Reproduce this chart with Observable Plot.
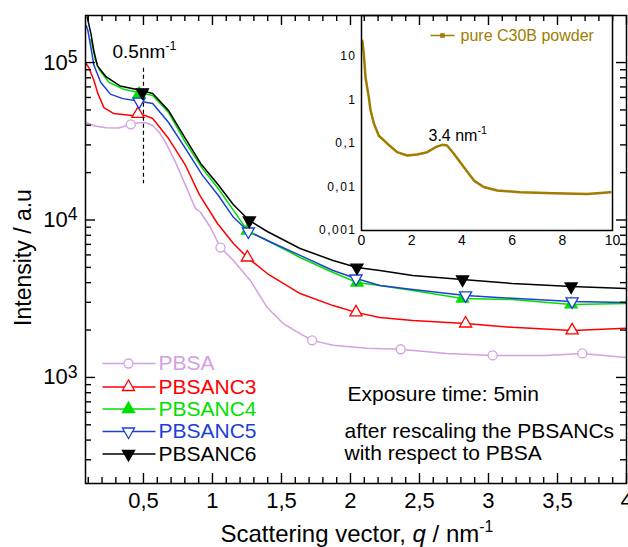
<!DOCTYPE html>
<html><head><meta charset="utf-8">
<script src="https://cdn.jsdelivr.net/npm/d3@7"></script>
<script src="https://cdn.jsdelivr.net/npm/@observablehq/plot@0.6"></script>
<style>
body{margin:0;background:#fff;}
#wrap{position:relative;width:628px;height:547px;overflow:hidden;}
#wrap svg{position:absolute;overflow:visible;}
.inset [aria-label="y-axis tick label"] text{letter-spacing:1.5px;}
</style></head><body><div id="wrap"></div>
<script>
// ---------------- data ----------------
const seriesNames = ["PBSA", "PBSANC3", "PBSANC4", "PBSANC5", "PBSANC6"];
const seriesColors = ["#d3a0e3", "#ff0000", "#00e000", "#1c3fd6", "#000000"];

// [q (nm^-1), intensity (a.u.)]
const pbsa = [[0.083,41600],[0.15,39500],[0.227,38600],[0.321,38400],[0.408,40500],[0.47,41500],[0.516,41600],[0.567,39800],[0.615,36000],[0.661,31000],[0.733,23200],[0.805,16600],[0.877,11800],[0.913,11200],[0.986,8960],[1.058,6680],[1.152,5530],[1.274,4130],[1.397,2780],[1.513,2200],[1.635,1900],[1.722,1720],[1.874,1600],[2.119,1530],[2.357,1510],[2.696,1420],[3.029,1380],[3.419,1380],[3.679,1420],[3.996,1340]];
const pbsanc3 = [[0.083,99000],[0.104,92900],[0.141,76900],[0.17,63500],[0.213,51800],[0.285,47400],[0.43,46000],[0.5,46500],[0.567,44100],[0.682,32900],[0.805,22200],[0.905,14500],[1.036,9500],[1.152,7100],[1.253,5780],[1.397,4570],[1.635,3410],[1.874,2860],[2.04,2590],[2.213,2400],[2.451,2300],[2.834,2200],[3.173,2080],[3.606,1990],[3.996,2050]];
const pbsanc4 = [[0.12,140000],[0.15,105000],[0.18,90000],[0.249,75000],[0.35,68000],[0.466,64600],[0.567,61700],[0.682,48200],[0.805,31000],[0.928,21200],[1.043,15800],[1.152,11500],[1.253,8570],[1.397,7410],[1.635,5780],[1.874,4640],[2.047,4010],[2.213,3840],[2.451,3570],[2.812,3170],[3.173,3130],[3.599,2910],[3.996,2950]];
const pbsanc5 = [[0.085,172000],[0.097,160000],[0.119,125000],[0.141,96000],[0.19,75000],[0.26,63000],[0.35,59000],[0.44,57500],[0.567,55000],[0.682,41600],[0.805,28400],[0.928,19200],[1.043,14300],[1.152,10400],[1.26,8450],[1.397,7410],[1.635,5960],[1.874,4780],[2.04,4250],[2.213,3840],[2.451,3620],[2.834,3320],[3.173,3180],[3.606,3040],[3.996,2990]];
const pbsanc6 = [[0.092,195000],[0.119,153000],[0.141,118000],[0.167,95000],[0.23,81000],[0.33,71000],[0.47,67000],[0.567,63600],[0.682,49500],[0.8,33400],[0.92,22500],[1.04,16800],[1.152,12500],[1.267,9930],[1.397,8450],[1.635,6590],[1.874,5530],[2.047,4990],[2.213,4770],[2.451,4440],[2.812,4190],[3.173,3950],[3.6,3780],[3.996,3670]];

// marker positions on each curve
const pbsaMarks = [[0.408,40500],[1.058,6680],[1.722,1720],[2.364,1510],[3.03,1380],[3.68,1420]];
const nc3Marks = [[0.46,47200],[1.253,5780],[2.04,2590],[2.834,2200],[3.606,1990]];
const nc4Marks = [[0.468,63000],[1.253,8570],[2.047,4010],[2.812,3170],[3.599,2910]];
const nc5Marks = [[0.468,56500],[1.26,8450],[2.04,4250],[2.834,3320],[3.606,3040]];
const nc6Marks = [[0.492,64700],[1.267,9930],[2.047,4990],[2.812,4190],[3.599,3780]];

// inset: pure C30B powder
const c30b = [[0.03,23],[0.09,11.7],[0.16,3.3],[0.29,1.16],[0.36,0.58],[0.49,0.29],[0.69,0.15],[1.02,0.1],[1.42,0.063],[1.82,0.053],[2.22,0.056],[2.62,0.063],[2.95,0.082],[3.21,0.093],[3.41,0.09],[3.68,0.058],[4.08,0.0285],[4.48,0.014],[4.87,0.01],[5.41,0.0083],[6.33,0.0076],[7.66,0.0072],[8.99,0.0069],[9.92,0.0076]];

// tick labels
const xTicks = [0.5, 1, 1.5, 2, 2.5, 3, 3.5, 4];
const yTicks = [1e3, 1e4, 1e5];
const insetXTicks = [0, 2, 4, 6, 8, 10];
const insetYTicks = [0.001, 0.01, 0.1, 1, 10];

const xMinor = d3.range(1, 40).map(i => i / 10).filter(v => v > 0.08 && Math.abs(v * 2 - Math.round(v * 2)) > 1e-6);
const yMinor = [100, 1000, 10000].flatMap(d => d3.range(2, 10).map(k => k * d)).filter(v => v > 212 && v < 199000);

// ---------------- helpers ----------------
const FONT = "'Liberation Sans', Arial, Helvetica, sans-serif";
const GOLD = "#a07c00";
const sqrt3 = Math.sqrt(3);
const triDown = {draw(ctx, size) { const y = -Math.sqrt(size / (sqrt3 * 3)); ctx.moveTo(0, -y * 2); ctx.lineTo(-sqrt3 * y, y); ctx.lineTo(sqrt3 * y, y); ctx.closePath(); }};
const lineShape = {draw(ctx, l) { ctx.moveTo(0, 0); ctx.lineTo(0, -l); }};
const fmtComma = d => String(d).replace(".", ",");

const W = 628, H = 547, ML = 85, MR = 2, MT = 15, MB = 64;
const FW = W - ML - MR, FH = H - MT - MB;
const px = (x, y) => ({frameAnchor: "top-left", dx: x - ML, dy: y - MT});
const tickStyle = {stroke: "black", strokeWidth: 1.4};
const mainScales = {x: {domain: [0.08, 4]}, y: {type: "log", domain: [212, 199000]}};

const specs = [
  {name: seriesNames[0], data: pbsa, marks: pbsaMarks, color: seriesColors[0], symbol: "circle", filled: false, ly: 363},
  {name: seriesNames[1], data: pbsanc3, marks: nc3Marks, color: seriesColors[1], symbol: "triangle", filled: false, ly: 386.5},
  {name: seriesNames[2], data: pbsanc4, marks: nc4Marks, color: seriesColors[2], symbol: "triangle", filled: true, ly: 408.5},
  {name: seriesNames[3], data: pbsanc5, marks: nc5Marks, color: seriesColors[3], symbol: triDown, filled: false, ly: 431},
  {name: seriesNames[4], data: pbsanc6, marks: nc6Marks, color: seriesColors[4], symbol: triDown, filled: true, ly: 453.5}
];

const marks = [];
for (const s of specs) marks.push(Plot.line(s.data, {x: d => d[0], y: d => d[1], stroke: s.color, strokeWidth: 1.5, clip: true}));
for (const s of specs) marks.push(Plot.dot(s.marks, {x: d => d[0], y: d => d[1], symbol: s.symbol, r: 4.5, stroke: s.color, fill: s.filled ? s.color : "white", strokeWidth: 1.3}));
marks.push(Plot.ruleX([0.5], {y1: 92000, y2: 17000, stroke: "black", strokeWidth: 1.2, strokeDasharray: "4,3"}));
marks.push(Plot.axisX(xTicks, {tickSize: 0, tickPadding: 9, tickFormat: fmtComma, fontSize: 22, label: null}));
marks.push(Plot.axisY(yTicks, {tickSize: 0, tickPadding: 8, tickFormat: d => `10^{${Math.round(Math.log10(d))}}`, fontSize: 22, label: null}));
marks.push(Plot.frame({stroke: "black", strokeWidth: 1.5}));
// legend
for (const s of specs) {
  marks.push(Plot.vector([0], {...px(102, s.ly), rotate: 90, length: 53, anchor: "start", shape: lineShape, stroke: s.color, strokeWidth: 1.5, strokeLinecap: "butt"}));
  marks.push(Plot.dot([0], {...px(128, s.ly), symbol: s.symbol, r: 4.5, stroke: s.color, fill: s.filled ? s.color : "white", strokeWidth: 1.3}));
  marks.push(Plot.text([s.name], {...px(158, s.ly), text: d => d, textAnchor: "start", lineAnchor: "middle", fill: s.color, fontSize: 21}));
}
// texts
marks.push(Plot.text(["0.5nm^{-1}"], {...px(112, 57), text: d => d, textAnchor: "start", lineAnchor: "bottom", fontSize: 19}));
marks.push(Plot.text(["Exposure time: 5min"], {...px(347, 400), text: d => d, textAnchor: "start", lineAnchor: "bottom", fontSize: 21}));
marks.push(Plot.text(["after rescaling the PBSANCs"], {...px(344, 437), text: d => d, textAnchor: "start", lineAnchor: "bottom", fontSize: 21}));
marks.push(Plot.text(["with respect to PBSA"], {...px(344, 459), text: d => d, textAnchor: "start", lineAnchor: "bottom", fontSize: 21}));
marks.push(Plot.text(["Intensity / a.u"], {...px(30, 257), text: d => d, rotate: -90, textAnchor: "middle", lineAnchor: "bottom", fontSize: 23}));
marks.push(Plot.text(["Scattering vector, *q* / nm^{-1}"], {...px(220, 541), text: d => d, textAnchor: "start", lineAnchor: "bottom", fontSize: 24}));

const main = Plot.plot({
  width: W, height: H,
  marginLeft: ML, marginRight: MR, marginTop: MT, marginBottom: MB,
  style: {fontFamily: FONT, fontSize: "21px", color: "black", background: "transparent", overflow: "visible"},
  ...mainScales,
  marks
});

// ---------------- inward ticks on all four sides (separate overlay with the same scales) ----------------
const tickLayer = Plot.plot({
  width: W, height: H,
  marginLeft: ML, marginRight: MR, marginTop: MT, marginBottom: MB,
  style: {background: "transparent", overflow: "visible"},
  ...mainScales,
  marks: [
    Plot.ruleX(xTicks, {x: d => d, insetTop: FH - 10, ...tickStyle}),
    Plot.ruleX(xMinor, {x: d => d, insetTop: FH - 6, ...tickStyle}),
    Plot.ruleX(xTicks, {x: d => d, insetBottom: FH - 10, ...tickStyle}),
    Plot.ruleX(xMinor, {x: d => d, insetBottom: FH - 6, ...tickStyle}),
    Plot.ruleY(yTicks, {y: d => d, insetRight: FW - 10, ...tickStyle}),
    Plot.ruleY(yMinor, {y: d => d, insetRight: FW - 6, ...tickStyle}),
    Plot.ruleY(yTicks, {y: d => d, insetLeft: FW - 10, ...tickStyle}),
    Plot.ruleY(yMinor, {y: d => d, insetLeft: FW - 6, ...tickStyle}),
    Plot.axisX({ticks: [], label: null, tickSize: 0}),
    Plot.axisY({ticks: [], label: null, tickSize: 0})
  ]
});

// ---------------- inset ----------------
const IL = 45, IT = 5;
const ipx = (x, y) => ({frameAnchor: "top-left", dx: x - 361, dy: y - 15});
const inset = Plot.plot({
  className: "inset",
  width: 306, height: 242,
  marginLeft: IL, marginRight: 10, marginTop: IT, marginBottom: 22,
  style: {fontFamily: FONT, fontSize: "14px", color: "black", background: "transparent", overflow: "visible"},
  x: {domain: [0, 10]},
  y: {type: "log", domain: [0.001, 87]},
  marks: [
    Plot.line(c30b, {x: d => d[0], y: d => d[1], stroke: GOLD, strokeWidth: 2.5, clip: true}),
    Plot.axisX(insetXTicks, {tickSize: 0, tickPadding: 5, fontSize: 14, label: null}),
    Plot.axisY(insetYTicks, {tickSize: 0, tickPadding: 5, fontSize: 12, tickFormat: fmtComma, label: null}),
    Plot.frame({stroke: "black", strokeWidth: 1.5}),
    Plot.vector([0], {...ipx(430, 35), rotate: 90, length: 24, anchor: "start", shape: lineShape, stroke: GOLD, strokeWidth: 1.5, strokeLinecap: "butt"}),
    Plot.dot([0], {...ipx(442, 35), symbol: "square", r: 2.6, fill: GOLD, stroke: "none"}),
    Plot.text(["pure C30B powder"], {...ipx(460, 35), text: d => d, textAnchor: "start", lineAnchor: "middle", fill: GOLD, fontSize: 16}),
    Plot.text(["3.4 nm^{-1}"], {...ipx(428, 140), text: d => d, textAnchor: "start", lineAnchor: "bottom", fontSize: 16})
  ]
});

const wrap = document.getElementById("wrap");
main.style.left = "0px"; main.style.top = "0px";
tickLayer.style.left = "0px"; tickLayer.style.top = "0px";
inset.style.left = (361 - IL) + "px"; inset.style.top = (15 - IT) + "px";
wrap.appendChild(main);
wrap.appendChild(inset);
wrap.appendChild(tickLayer);

// superscripts / italics inside real SVG text
function richText(svg) {
  svg.querySelectorAll("text").forEach(t => {
    const s = t.textContent;
    if (!/\^\{|\*/.test(s) || t.querySelector("tspan")) return;
    const fs = parseFloat(getComputedStyle(t).fontSize) || 16;
    const big = !!t.closest('[aria-label="y-axis tick label"]');
    const sc = big ? 0.8 : 0.66, rs = big ? 0.3 : 0.38;
    const parts = s.split(/(\^\{[^}]*\}|\*[^*]+\*)/).filter(p => p);
    t.textContent = "";
    let raised = false;
    for (const p of parts) {
      const ts = document.createElementNS("http://www.w3.org/2000/svg", "tspan");
      if (p.startsWith("^{")) {
        ts.textContent = p.slice(2, -1);
        ts.setAttribute("font-size", (fs * sc).toFixed(1));
        ts.setAttribute("dy", (-fs * rs).toFixed(1));
        raised = true;
      } else {
        if (p.startsWith("*")) { ts.textContent = p.slice(1, -1); ts.setAttribute("font-style", "italic"); }
        else ts.textContent = p;
        if (raised) { ts.setAttribute("dy", (fs * rs).toFixed(1)); raised = false; }
      }
      t.appendChild(ts);
    }
  });
}
richText(main);
richText(inset);
</script></body></html>
